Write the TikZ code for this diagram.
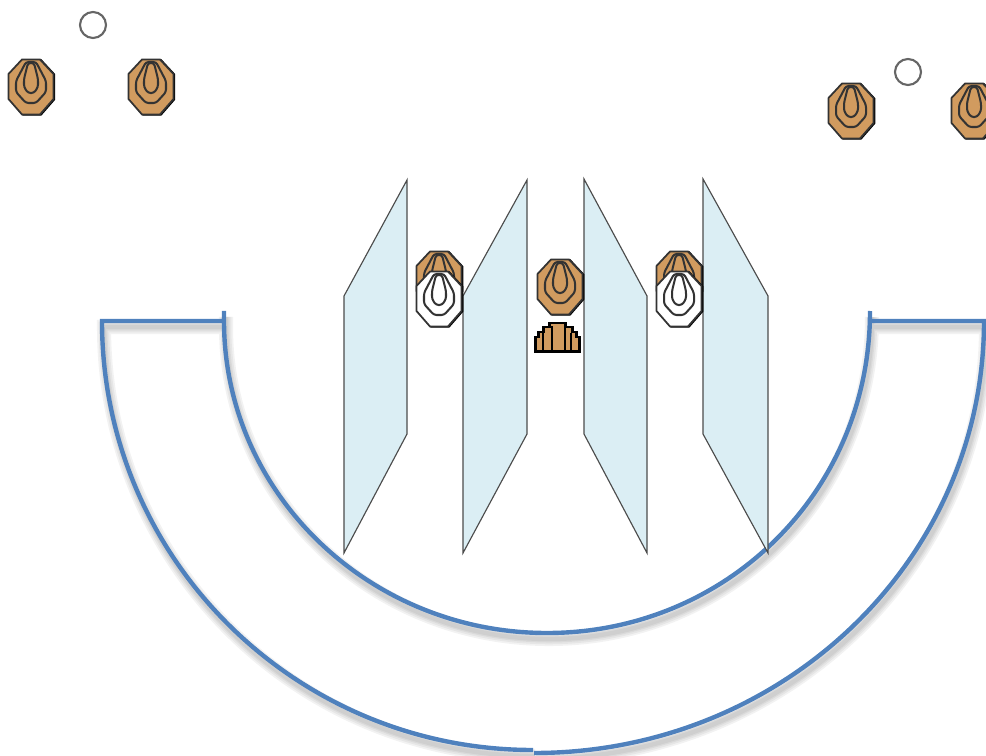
\documentclass[tikz,border=0pt]{standalone}
\usepackage{xcolor}
\definecolor{wallblue}{HTML}{4F81BD}
\definecolor{panelblue}{HTML}{DBEEF4}
\definecolor{targetbrown}{HTML}{D19B5F}
\tikzset{
  wall/.style={draw=wallblue, line width=2.5pt},
  wallshadow/.style={draw=black, opacity=0.05, shift={(2,6)}},
  panel/.style={draw=black!70, fill=panelblue, line width=0.65pt},
  ring/.style={draw=black!80, line width=1.15pt, rounded corners=1.5pt},
  spot/.style={circle, draw=black!60, fill=white, line width=1.2pt, minimum size=0.52cm, inner sep=0pt},
  pics/target/.style={code={
    \draw[black, line width=0.85pt, fill=black, shift={(1,0.4)}] (-9,-27.5) -- (9,-27.5) -- (22.5,-13) -- (22.5,12) -- (9,27.5) -- (-9,27.5) -- (-22.5,12) -- (-22.5,-13) -- cycle;
    \draw[black!80, line width=1pt, fill=#1] (-9,-27.5) -- (9,-27.5) -- (22.5,-13) -- (22.5,12) -- (9,27.5) -- (-9,27.5) -- (-22.5,12) -- (-22.5,-13) -- cycle;
    \draw[ring] (-5,-25) -- (5,-25) -- (15,-6) -- (15,5) -- (5,16) -- (-5,16) -- (-15,5) -- (-15,-6) -- cycle;
    \draw[ring] (-3,-24) -- (3,-24) -- (7,-8) -- (7,0) -- (3,6) -- (-3,6) -- (-7,0) -- (-7,-8) -- cycle;
  }},
  pics/helmet/.style={code={
    \draw[black, line width=1.7pt, fill=targetbrown] (-22,-1.5) -- (-22,-16) -- (-19,-16) -- (-19,-21) -- (-14,-21) -- (-14,-26) -- (-8,-26) -- (-8,-30) -- (8,-30) -- (8,-26) -- (15,-26) -- (15,-21) -- (19,-21) -- (19,-16) -- (22,-16) -- (22,-1.5) -- cycle;
    \foreach \sx/\st in {-14/-20, -5/-27, 8/-27, 14/-20} {
      \draw[black, line width=1.5pt] (\sx,-1) -- (\sx,\st);
    }
  }}
}
\newcommand{\wallpath}{
  (224,311) -- (224,321) -- (102,321)
  .. controls (102,558) and (295,750) .. (533,750)
  (534,753) .. controls (783,753) and (984,560) .. (984,321) -- (870,321)
  (870,311) .. controls (870,493) and (725,633) .. (547,633)
  .. controls (369,633) and (224,493) .. (224,321)
}
\begin{document}
\begin{tikzpicture}[x=0.02cm, y=-0.02cm]
\useasboundingbox (0,0) rectangle (986,756);

% shadow under the walls
\foreach \shwidth in {8pt, 6pt, 4pt, 2.5pt} {
  \path[wallshadow, line width=\shwidth] \wallpath;
}
\path[wall] \wallpath;

% glass panels
\path[panel] (344,296) -- (407,180) -- (407,434) -- (344,553) -- cycle;
\path[panel] (463,296) -- (527,180) -- (527,434) -- (463,553) -- cycle;
\path[panel] (584,179) -- (647,296) -- (647,553) -- (584,434) -- cycle;
\path[panel] (703,179) -- (768,296) -- (768,553) -- (703,434) -- cycle;

% people at the top
\node[spot] (spotleft) at (93,25) {};
\node[spot] (spotright) at (908,72) {};
\pic (topa) at (31,87) {target=targetbrown};
\pic (topb) at (151,87) {target=targetbrown};
\pic (topc) at (851,111) {target=targetbrown};
\pic (topd) at (974,111) {target=targetbrown};

% people between the panels
\pic (mida) at (439,279) {target=targetbrown};
\pic (midb) at (439,299) {target=white};
\pic (midc) at (560,287) {target=targetbrown};
\pic (midd) at (679,279) {target=targetbrown};
\pic (mide) at (679,299) {target=white};
\pic (seat) at (557,353) {helmet};
\end{tikzpicture}
\end{document}
